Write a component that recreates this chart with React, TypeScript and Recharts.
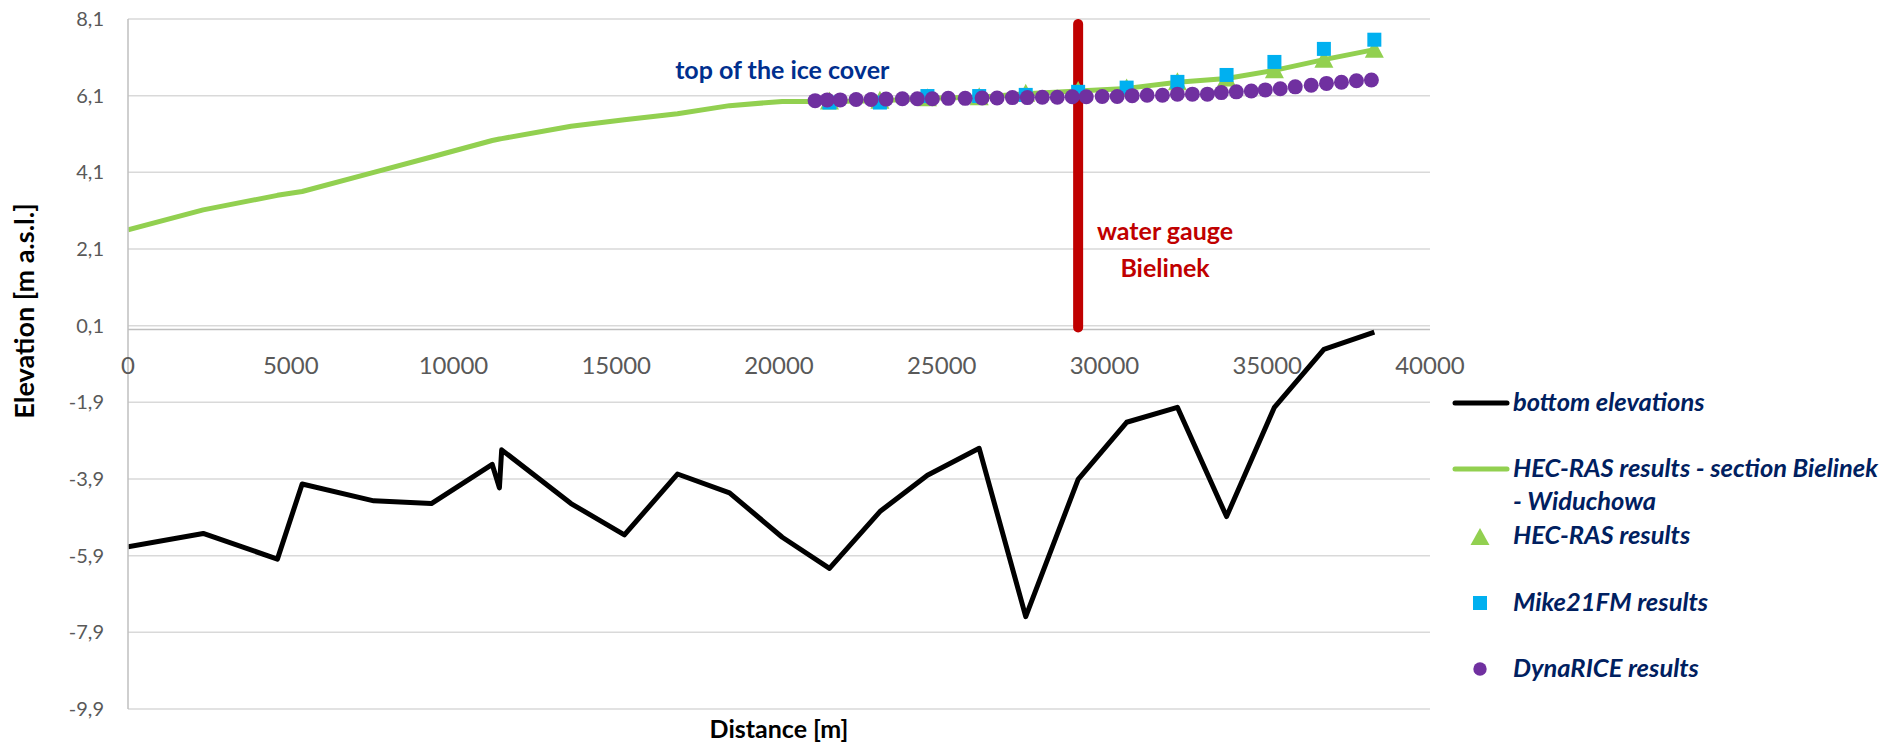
import React from 'react';
import {
  ComposedChart,
  Line,
  Scatter,
  XAxis,
  YAxis,
  CartesianGrid,
  ReferenceLine,
  ReferenceDot,
} from 'recharts';

// ---- axes ----
const xTicks = [0, 5000, 10000, 15000, 20000, 25000, 30000, 35000, 40000];
const yTicks = [-9.9, -7.9, -5.9, -3.9, -1.9, 0.1, 2.1, 4.1, 6.1, 8.1];

// ---- cross-section chainages [m] ----
const sectionX = [
  0, 2310, 4590, 5350, 7550, 9320, 11190, 11410, 11480, 13610, 15250, 16880, 18480, 20100,
  21550, 23100, 24560, 26150, 27580, 29190, 30680, 32240, 33750, 35220, 36740, 38290,
];
// bottom elevations
const bottomY = [
  -5.67, -5.32, -5.99, -4.03, -4.47, -4.54, -3.52, -4.13, -3.14, -4.54, -5.36, -3.77, -4.26, -5.42,
  -6.23, -4.75, -3.8, -3.1, -7.49, -3.91, -2.42, -2.03, -4.88, -2.03, -0.52, -0.07,
];
// HEC-RAS results - section Bielinek - Widuchowa (line)
const hecLineY = [
  2.6, 3.12, 3.5, 3.6, 4.1, 4.5, 4.93, 4.97, 4.98, 5.3, 5.47, 5.63, 5.84, 5.95,
  5.95, 5.97, 6.03, 6.06, 6.15, 6.22, 6.29, 6.45, 6.55, 6.76, 7.04, 7.3,
];

// ---- model results ----
const resultX = [21550, 23100, 24560, 26150, 27580, 29190, 30680, 32240, 33750, 35220, 36740, 38290];
const hecResultY = [5.95, 5.97, 6.03, 6.06, 6.15, 6.22, 6.29, 6.45, 6.55, 6.76, 7.04, 7.3];
const mikeResultY = [5.92, 5.92, 6.09, 6.09, 6.12, 6.2, 6.31, 6.46, 6.64, 6.98, 7.32, 7.56];

const dynaX = [
  21110, 21480, 21880, 22370, 22830, 23290, 23790, 24250, 24710, 25200,
  25720, 26240, 26700, 27170, 27630, 28090, 28550, 29010, 29440, 29930,
  30390, 30850, 31310, 31780, 32240, 32700, 33160, 33590, 34050, 34510,
  34940, 35400, 35860, 36350, 36820, 37280, 37740, 38200,
];
const dynaY = [
  5.97, 5.99, 5.99, 6.0, 6.0, 6.01, 6.02, 6.02, 6.02, 6.03,
  6.03, 6.04, 6.04, 6.05, 6.05, 6.06, 6.06, 6.07, 6.07, 6.08,
  6.08, 6.1, 6.11, 6.11, 6.14, 6.14, 6.14, 6.18, 6.2, 6.22,
  6.25, 6.28, 6.33, 6.37, 6.42, 6.45, 6.49, 6.51,
];

// water gauge Bielinek
const gaugeX = 29190;
const gaugeY = [0.05, 7.97];

// annotations (anchor = text baseline centre)
const iceLabel = { x: 20100, y: 6.53, text: 'top of the ice cover' };
const gaugeLabel1 = { x: 31860, y: 2.33, text: 'water gauge' };
const gaugeLabel2 = { x: 31860, y: 1.38, text: 'Bielinek' };

// ---- tables built from the arrays ----
const bottomData = sectionX.map((x, i) => ({ x, y: bottomY[i] }));
const hecLineData = sectionX.map((x, i) => ({ x, y: hecLineY[i] }));
const hecData = resultX.map((x, i) => ({ x, y: hecResultY[i] }));
const mikeData = resultX.map((x, i) => ({ x, y: mikeResultY[i] }));
const dynaData = dynaX.map((x, i) => ({ x, y: dynaY[i] }));
const gaugeData = gaugeY.map((y) => ({ x: gaugeX, y }));

const FONT = 'Lato, "Open Sans", sans-serif';
const fmtY = (v: number) => v.toFixed(1).replace('.', ',');

const TriangleShape = (p: any) => {
  const { cx, cy } = p;
  if (cx == null || cy == null) return null;
  return (
    <polygon
      points={`${cx},${cy - 10} ${cx + 9.5},${cy + 8} ${cx - 9.5},${cy + 8}`}
      fill="#92D050"
    />
  );
};
const SquareShape = (p: any) => {
  const { cx, cy } = p;
  if (cx == null || cy == null) return null;
  return <rect x={cx - 7} y={cy - 7} width={14} height={14} fill="#00B0F0" />;
};
const CircleShape = (p: any) => {
  const { cx, cy } = p;
  if (cx == null || cy == null) return null;
  return <circle cx={cx} cy={cy} r={7.5} fill="#7030A0" />;
};

const AnchoredText = (props: any) => {
  const { viewBox, text, dy = 0, fill, fontSize, fontWeight } = props;
  if (!viewBox) return null;
  const cx = viewBox.x + (viewBox.width || 0) / 2;
  const cy = viewBox.y + (viewBox.height || 0) / 2;
  return (
    <text
      x={cx}
      y={cy + dy}
      textAnchor="middle"
      fill={fill}
      fontSize={fontSize}
      fontWeight={fontWeight}
      fontFamily={FONT}
    >
      {text}
    </text>
  );
};

export default function App() {
  return (
    <div style={{ position: 'absolute', left: 0, top: 0, width: 1885, height: 744, background: '#fff' }}>
      <ComposedChart
        width={1885}
        height={744}
        margin={{ top: 19, right: 455, bottom: 35, left: 68 }}
      >
        <CartesianGrid
          stroke="#d9d9d9"
          strokeWidth={1.5}
          verticalValues={xTicks}
          horizontalValues={yTicks}
        />
        <XAxis
          type="number"
          dataKey="x"
          domain={[0, 40000]}
          ticks={xTicks}
          tick={false}
          tickLine={false}
          axisLine={false}
          height={0}
          allowDataOverflow
        />
        <YAxis
          type="number"
          dataKey="y"
          domain={[-9.9, 8.1]}
          ticks={yTicks}
          interval={0}
          width={60}
          tickLine={false}
          tickMargin={18}
          axisLine={{ stroke: '#bfbfbf', strokeWidth: 1.5 }}
          tick={{ fill: '#595959', fontSize: 20, fontFamily: FONT }}
          tickFormatter={fmtY}
          allowDataOverflow
        />
        <ReferenceLine y={0} stroke="#bfbfbf" strokeWidth={1.5} />
        {xTicks.map((t) => (
          <ReferenceDot
            key={`xt-${t}`}
            x={t}
            y={0}
            r={0}
            fill="none"
            stroke="none"
            label={<AnchoredText text={String(t)} dy={44} fill="#595959" fontSize={24} fontWeight={400} />}
          />
        ))}
        <Line
          data={bottomData}
          dataKey="y"
          stroke="#000000"
          strokeWidth={5}
          dot={false}
          activeDot={false}
          strokeLinejoin="round"
          isAnimationActive={false}
        />
        <Line
          data={hecLineData}
          dataKey="y"
          stroke="#92D050"
          strokeWidth={5}
          dot={false}
          activeDot={false}
          strokeLinejoin="round"
          isAnimationActive={false}
        />
        <Line
          data={gaugeData}
          dataKey="y"
          stroke="#C00000"
          strokeWidth={10}
          strokeLinecap="round"
          dot={false}
          activeDot={false}
          isAnimationActive={false}
        />
        <Scatter data={hecData} dataKey="y" shape={TriangleShape} isAnimationActive={false} />
        <Scatter data={mikeData} dataKey="y" shape={SquareShape} isAnimationActive={false} />
        <Scatter data={dynaData} dataKey="y" shape={CircleShape} isAnimationActive={false} />
        <ReferenceDot
          x={iceLabel.x}
          y={iceLabel.y}
          r={0}
          fill="none"
          stroke="none"
          label={<AnchoredText text={iceLabel.text} fill="#002F8E" fontSize={25} fontWeight={700} />}
        />
        <ReferenceDot
          x={gaugeLabel1.x}
          y={gaugeLabel1.y}
          r={0}
          fill="none"
          stroke="none"
          label={<AnchoredText text={gaugeLabel1.text} fill="#C00000" fontSize={25} fontWeight={700} />}
        />
        <ReferenceDot
          x={gaugeLabel2.x}
          y={gaugeLabel2.y}
          r={0}
          fill="none"
          stroke="none"
          label={<AnchoredText text={gaugeLabel2.text} fill="#C00000" fontSize={25} fontWeight={700} />}
        />
      </ComposedChart>
      <svg
        width={1885}
        height={744}
        style={{ position: 'absolute', left: 0, top: 0, pointerEvents: 'none' }}
      >
        <text
          x={34}
          y={311}
          transform="rotate(-90, 34, 311)"
          textAnchor="middle"
          fontFamily={FONT}
          fontWeight={700}
          fontSize={27}
          fill="#000"
        >
          Elevation [m a.s.l.]
        </text>
        <text x={779} y={738} textAnchor="middle" fontFamily={FONT} fontWeight={700} fontSize={25} fill="#000">
          Distance [m]
        </text>
        <g fontFamily={FONT} fontWeight={700} fontStyle="italic" fontSize={25.5} fill="#002060">
          <line x1={1455} y1={403} x2={1507} y2={403} stroke="#000" strokeWidth={5} strokeLinecap="round" />
          <text x={1513} y={411}>bottom elevations</text>
          <line x1={1455} y1={469} x2={1507} y2={469} stroke="#92D050" strokeWidth={5} strokeLinecap="round" />
          <text x={1513} y={477}>HEC-RAS results - section Bielinek</text>
          <text x={1513} y={510}>- Widuchowa</text>
          <polygon points="1480,528 1489.5,545 1470.5,545" fill="#92D050" />
          <text x={1513} y={544}>HEC-RAS results</text>
          <rect x={1473} y={596} width={14} height={14} fill="#00B0F0" />
          <text x={1513} y={611}>Mike21FM results</text>
          <circle cx={1480} cy={669} r={6.7} fill="#7030A0" />
          <text x={1513} y={677}>DynaRICE results</text>
        </g>
      </svg>
    </div>
  );
}
